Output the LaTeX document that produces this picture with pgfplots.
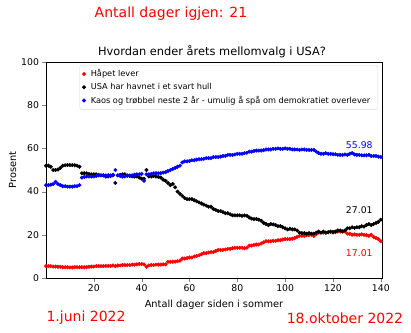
\documentclass[border=0pt]{standalone}
\usepackage{pgfplots}
\pgfplotsset{compat=1.18}
\usepackage{fontspec}
\setmainfont{DejaVu Sans}
\definecolor{mred}{RGB}{255,0,0}
\definecolor{mblue}{RGB}{0,0,255}
\begin{document}
\begin{tikzpicture}
\useasboundingbox (-46pt,-54pt) rectangle (365pt,278pt);
\begin{axis}[
  scale only axis, width=336pt, height=216pt,
  xmin=0, xmax=140.5, ymin=0, ymax=100,
  xtick={20,40,...,140}, ytick={0,20,...,100},
  tick align=outside, tick pos=left,
  major tick length=3.5pt,
  tick label style={font=\fontsize{9.3}{10}\selectfont},
  /pgf/number format/assume math mode=true,
  xlabel={Antall dager siden i sommer},
  ylabel={Prosent},
  label style={font=\fontsize{9.8}{11}\selectfont},
  xlabel style={yshift=-1pt},
  ylabel style={yshift=-2pt},
  legend style={at={(0.988,0.986)}, anchor=north east, font=\fontsize{8.2}{9}\selectfont, draw=black!15, rounded corners=2pt, row sep=1pt, inner sep=2.5pt, nodes={inner xsep=5pt}},
  legend image post style={xshift=-2pt},
  legend cell align=left,
  clip=false,
]
\addplot[only marks, mark=*, mark size=1.8pt, color=mred] coordinates {
(0,5.5)(1,5.5)(2,5.5)(3,5.3)(4,5.3)(5,5.2)(6,5.2)
(7,5)(8,5)(9,5)(10,4.9)(11,4.9)(12,5)(13,5)(14,5)(15,5)(16,5)(17,5)(18,5.2)
(19,5.3)(20,5.3)(21,5.5)(22,5.5)(23,5.5)(24,5.5)(25,5.6)(26,5.6)(27,5.6)(28,5.8)(29,5.5)(30,5.8)(31,5.8)(32,6)(33,6)(34,6)(35,6)(36,6.2)(37,6.2)(38,6.3)
(39,6.5)(40,6.5)(41,6.3)(42,5.2)(43,5.8)(44,6)(45,6)(46,6.2)(47,6.2)(48,6.2)(49,6.3)(50,6.3)
(51,7.5)(52,7.5)(53,7.5)(54,7.6)(55,7.8)(56,8)
(57,9)(58,9)(59,9.2)(60,9.5)(61,9.5)(62,10)(63,10.2)(64,10.5)
(65,11)(66,11.5)(67,11.5)(68,11.8)(69,12)(70,12)(71,12.5)(72,13)(73,13)
(74,13)(75,13.2)(76,13.5)(77,13.5)(78,13.8)(79,14)(80,14)(81,14)(82,14)(83,13.8)(84,14)
(85,15)(86,15)(87,15.3)(88,15.5)(89,15.5)(90,16)(91,16.5)
(92,17)(93,17)(94,17)(95,17.2)(96,17.2)(97,17.5)(98,17.5)(99,17.8)(100,18)
(101,18)(102,18)(103,18.2)(104,18.5)(105,19)
(106,19.5)(107,19.5)(108,19.5)(109,19.8)(110,19.8)(111,20)(112,19.5)(113,20.5)(114,21)
(115,21)(116,21)(117,21)(118,21.2)(119,21.3)(120,21)(121,21.2)(122,21.5)(123,21.5)(124,21.8)(125,21.5)(126,20.5)
(127,20.5)(128,20)(129,20.2)(130,20)(131,20)(132,20.2)(133,20)(134,19.8)(135,19.5)(136,20)
(137,19)(138,18.5)(139,18)(140,17.01)
};
\addlegendentry{Håpet lever}
\addplot[only marks, mark=*, mark size=1.8pt, color=black] coordinates {
(0,52)(1,52)(2,51.5)
(3,50)(4,50)(5,50.2)(6,51)
(7,52)(8,52.2)(9,52.3)(10,52.3)(11,52.3)(12,52.2)(13,52)(14,51.5)
(15,48.5)(16,48.5)(17,48.5)(18,48.2)(19,48)(20,48)(21,48)(22,47.8)(23,47.5)(24,47.5)
(25,47)(26,47)(27,47.2)(28,47.5)
(29,44)
(30,47.5)(31,47.8)(32,48)(33,48)(34,47.5)(35,47.2)(36,47)(37,47)(38,47)
(39,46.5)(40,46)(41,46)(42,50)
(43,47)(44,47)(45,47.2)(46,47)(47,46.8)(48,46.5)
(49,45.5)(50,45)(51,44)(52,43)(53,43.5)
(54,42)(55,40)(56,39)(57,38)(58,37)
(59,36.5)(60,36.5)(61,36.5)(62,36)(63,35.5)(64,35)(65,34.5)
(66,34)(67,33.5)(68,33)(69,33)(70,32)(71,31.5)(72,31)
(73,31)(74,30.5)(75,30)(76,30)(77,29.5)(78,29)
(79,29)(80,29)(81,29)(82,28.8)(83,29)(84,28.8)(85,28)
(86,27.5)(87,27.3)(88,27.3)(89,27)(90,26.5)
(91,25.5)(92,25)(93,24.5)(94,25)(95,24.8)(96,24.5)(97,24)(98,24)
(99,23.5)(100,23)(101,22.5)(102,22.8)(103,22.5)(104,22.5)(105,22)
(106,21)(107,20.8)(108,20.8)(109,20.5)(110,20.8)(111,20.5)(112,20.5)(113,21)(114,21.5)
(115,21)(116,21.5)(117,21)(118,21.2)(119,21.5)(120,21.3)(121,21.5)(122,22)(123,22)(124,21.5)(125,22)(126,23)
(127,23)(128,23.5)(129,23.2)(130,23.5)(131,23.5)(132,24)(133,23.8)(134,24.5)
(135,25)(136,24.5)(137,25)(138,25.5)(139,26)(140,27.01)
};
\addlegendentry{USA har havnet i et svart hull}
\addplot[only marks, mark=*, mark size=1.8pt, color=mblue] coordinates {
(0,43)(1,43)(2,43.2)(3,43.5)(4,44.5)(5,43.5)(6,43)
(7,42.5)(8,42.5)(9,42.3)(10,42.3)(11,42.3)(12,42.5)(13,42.5)(14,43)
(15,46.5)(16,46.8)(17,47)(18,47)(19,47)(20,47)(21,47.2)(22,47.5)(23,47.5)(24,47.5)(25,47.5)(26,47.6)(27,47.5)(28,47.8)
(29,50)
(30,47.5)(31,47.2)(32,47)(33,47)(34,47.3)(35,47.5)(36,47.5)(37,47.8)(38,48)(39,48)(40,48.2)
(41,45)
(42,48)(43,48)(44,48.2)(45,48.5)(46,48.5)(47,48.5)(48,48.5)(49,48.8)(50,49)
(51,49.5)(52,50)(53,50.5)(54,51)(55,51.5)(56,52)
(57,53.5)(58,54)(59,54)(60,54.2)
(61,54.5)(62,54.5)(63,54.8)(64,55)(65,55)(66,55.2)(67,55.5)(68,55.5)(69,55.5)(70,56)(71,56)(72,56)
(73,56.2)(74,56.5)(75,56.5)(76,57)(77,57)(78,57)(79,57.2)(80,57.5)
(81,57.5)(82,57.5)(83,57.8)(84,58)(85,58.5)(86,58.5)(87,58.8)(88,59)(89,59)(90,59)
(91,59.2)(92,59.5)(93,59.5)(94,59.5)(95,59.8)(96,59.8)(97,60)(98,59.8)(99,59.8)(100,60)
(101,59.8)(102,59.8)(103,59.5)(104,59.5)(105,59.5)(106,59.3)(107,59.5)(108,59.5)(109,59.3)(110,59.3)(111,59.3)(112,59.3)
(113,58.5)(114,57.8)(115,57.5)(116,57.5)(117,57.8)(118,57.5)
(119,57.5)(120,57.3)(121,57.3)(122,57)(123,57)(124,57)(125,57.2)(126,57)(127,57.5)(128,57.8)(129,57.2)(130,57)
(131,57)(132,56.8)(133,56.8)(134,56.8)(135,57)(136,56.5)(137,56.5)(138,56.5)(139,56.2)(140,55.98)
};
\addlegendentry{Kaos og trøbbel neste 2 år - umulig å spå om demokratiet overlever}
\node[font=\fontsize{9.3}{10}\selectfont, text=mblue] at (axis cs:131,61.5) {55.98};
\node[font=\fontsize{9.3}{10}\selectfont, text=black] at (axis cs:131,31.5) {27.01};
\node[font=\fontsize{9.3}{10}\selectfont, text=mred] at (axis cs:131,11.5) {17.01};
\end{axis}
\node[font=\fontsize{11.4}{12}\selectfont] at (166pt,226pt) {Hvordan ender årets mellomvalg i USA?};
\node[font=\fontsize{14}{16}\selectfont, text=mred] at (125pt,264pt) {Antall dager igjen: 21};
\node[font=\fontsize{14}{16}\selectfont, text=mred] at (40pt,-40pt) {1.juni 2022};
\node[font=\fontsize{14}{16}\selectfont, text=mred] at (299pt,-40pt) {18.oktober 2022};
\end{tikzpicture}
\end{document}
